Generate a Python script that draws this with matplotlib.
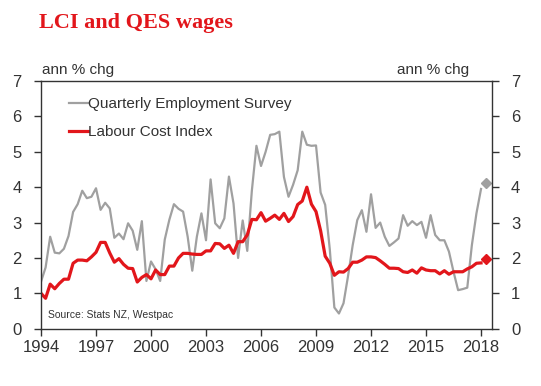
import matplotlib
matplotlib.use("Agg")
import matplotlib.pyplot as plt
import numpy as np

# quarterly, 1994Q1 to 2018Q1
qes = [1.33, 1.73, 2.6, 2.15, 2.13, 2.26, 2.62, 3.3, 3.52, 3.9, 3.69, 3.73,
       3.97, 3.36, 3.56, 3.4, 2.57, 2.69, 2.53, 2.98, 2.77, 2.23, 3.04, 1.35,
       1.9, 1.68, 1.35, 2.52, 3.08, 3.52, 3.39, 3.31, 2.6, 1.64, 2.6, 3.26,
       2.5, 4.22, 2.98, 2.84, 3.12, 4.3, 3.54, 2.0, 3.06, 2.2, 3.9, 5.17,
       4.6, 5.0, 5.48, 5.5, 5.57, 4.29, 3.73, 4.07, 4.48, 5.57, 5.2, 5.17,
       5.18, 3.85, 3.5, 2.25, 0.6, 0.43, 0.72, 1.5, 2.36, 3.07, 3.35, 2.74,
       3.8, 2.85, 3.0, 2.6, 2.34, 2.44, 2.55, 3.21, 2.91, 3.04, 2.93, 3.02,
       2.57, 3.21, 2.65, 2.5, 2.5, 2.18, 1.61, 1.09, 1.12, 1.16, 2.36, 3.26,
       3.95]
lci = [1.0, 0.86, 1.26, 1.13, 1.28, 1.4, 1.4, 1.85, 1.94, 1.94, 1.92, 2.03,
       2.16, 2.44, 2.44, 2.14, 1.88, 1.98, 1.82, 1.71, 1.7, 1.32, 1.45, 1.53,
       1.41, 1.66, 1.53, 1.53, 1.77, 1.77, 2.0, 2.13, 2.13, 2.11, 2.1, 2.1,
       2.2, 2.2, 2.41, 2.4, 2.27, 2.36, 2.13, 2.46, 2.46, 2.65, 3.09, 3.08,
       3.28, 3.04, 3.12, 3.21, 3.09, 3.26, 3.03, 3.17, 3.51, 3.61, 4.0, 3.52,
       3.31, 2.77, 2.05, 1.85, 1.51, 1.61, 1.6, 1.7, 1.88, 1.88, 1.94, 2.03,
       2.03, 2.01, 1.92, 1.82, 1.71, 1.71, 1.7, 1.61, 1.59, 1.66, 1.57, 1.72,
       1.66, 1.64, 1.64, 1.55, 1.64, 1.54, 1.61, 1.61, 1.61, 1.69, 1.75, 1.85,
       1.86]
# latest quarter (2018Q2), shown as diamonds
qes_latest = 4.12
lci_latest = 1.96

start_year = 1994
x_ticks = [1994, 1997, 2000, 2003, 2006, 2009, 2012, 2015, 2018]
y_ticks = [0, 1, 2, 3, 4, 5, 6, 7]

grey = "#a0a0a0"
red = "#e2161b"
dark = "#333333"

plt.rcParams['font.family'] = ['Liberation Sans', 'DejaVu Sans']

dates = start_year + np.arange(len(qes)) * 0.25
latest_date = start_year + len(qes) * 0.25

fig = plt.figure(figsize=(5.41, 3.86), dpi=100)
ax = fig.add_axes([0.0758, 0.1484, 0.833, 0.6416])

ax.plot(dates, qes, color=grey, lw=1.6, label="Quarterly Employment Survey")
ax.plot(dates, lci, color=red, lw=2.3, label="Labour Cost Index")
ax.plot([latest_date], [qes_latest], marker="D", ms=5, color=grey, lw=0)
ax.plot([latest_date], [lci_latest], marker="D", ms=5, color=red, lw=0)

ax.set_xlim(1994, 2018.58)
ax.set_ylim(0, 7)
ax.set_xticks(x_ticks)
ax.set_yticks(y_ticks)
ax.tick_params(direction="out", length=5, width=1, colors=dark, labelsize=12,
               left=True, right=True, labelleft=True, labelright=True)
ax.tick_params(axis="y", pad=9)
ax.tick_params(axis="x", pad=3)
for s in ax.spines.values():
    s.set_color(dark)
    s.set_linewidth(1)

ax.legend(loc="upper left", bbox_to_anchor=(0.046, 0.965), frameon=False,
          fontsize=11, handlelength=1.2, handletextpad=0.05, labelspacing=0.92,
          borderpad=0, labelcolor=dark)

ax.text(0.016, 0.055, "Source: Stats NZ, Westpac", transform=ax.transAxes,
        fontsize=7.5, color=dark, va="center")

fig.text(0.078, 0.819, "ann % chg", fontsize=11, color=dark, va="center")
fig.text(0.867, 0.819, "ann % chg", fontsize=11, color=dark, va="center", ha="right")
fig.text(0.072, 0.94, "LCI and QES wages", fontsize=16, color=red, fontweight="bold",
         family="Liberation Serif", va="center")

fig.savefig("out.png", dpi=100)
